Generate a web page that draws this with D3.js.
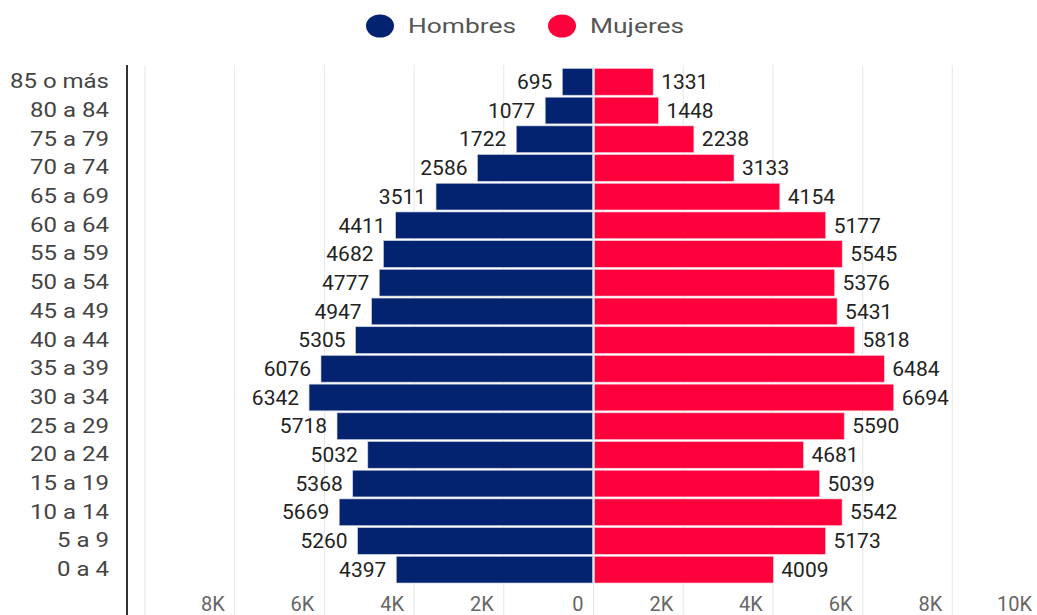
<!DOCTYPE html>
<html>
<head>
<meta charset="utf-8">
<title>Pirámide de población</title>
<script src="https://cdn.jsdelivr.net/npm/d3@7"></script>
<style>
body { margin: 0; background: #fff; }
svg { display: block; font-family: Roboto, "Noto Sans", sans-serif; }
</style>
</head>
<body>
<div id="chart"></div>
<script>
// age groups, top to bottom
var grupos = ["85 o más", "80 a 84", "75 a 79", "70 a 74", "65 a 69", "60 a 64", "55 a 59",
  "50 a 54", "45 a 49", "40 a 44", "35 a 39", "30 a 34", "25 a 29", "20 a 24",
  "15 a 19", "10 a 14", "5 a 9", "0 a 4"];
var hombres = [695, 1077, 1722, 2586, 3511, 4411, 4682, 4777, 4947, 5305, 6076, 6342, 5718, 5032, 5368, 5669, 5260, 4397];
var mujeres = [1331, 1448, 2238, 3133, 4154, 5177, 5545, 5376, 5431, 5818, 6484, 6694, 5590, 4681, 5039, 5542, 5173, 4009];
var ticks = [-10000, -8000, -6000, -4000, -2000, 0, 2000, 4000, 6000, 8000, 10000];
var tickLabels = ["10K", "8K", "6K", "4K", "2K", "0", "2K", "4K", "6K", "8K", "10K"];
var series = ["Hombres", "Mujeres"];
var colores = ["#03226f", "#ff003c"];

var W = 1037, H = 615;
var svg = d3.select("#chart").append("svg").attr("width", W).attr("height", H);

var x = d3.scaleLinear().domain([-10000, 10000]).range([145, 1042]);
var y = d3.scaleBand().domain(grupos).range([67.5, 584]).paddingInner(0.07).paddingOuter(0.035);

// the original is a bit wide in its lettering, so text gets stretched sideways
function place(sel, fx, fy, sx) {
  sel.attr("transform", (d, i) => "translate(" + fx(d, i) + "," + fy(d, i) + ") scale(" + sx + ",1)");
}

// gridlines
svg.append("g").selectAll("line").data(ticks).join("line")
  .attr("x1", d => x(d)).attr("x2", d => x(d))
  .attr("y1", 65).attr("y2", H)
  .attr("stroke", "#e6e6e6").attr("stroke-width", 1);

// tick labels (sit just left of their gridline)
svg.append("g").selectAll("text").data(ticks.slice(1)).join("text")
  .attr("x", d => x(d) - 10).attr("y", 611)
  .attr("text-anchor", "end")
  .attr("fill", "#666").attr("font-size", 20)
  .text(d => tickLabels[ticks.indexOf(d)]);

// bars
var rows = grupos.map((g, i) => ({g: g, h: hombres[i], m: mujeres[i]}));
var bars = svg.append("g");
bars.selectAll("rect.h").data(rows).join("rect").attr("class", "h")
  .attr("x", d => x(-d.h)).attr("width", d => x(0) - x(-d.h) - 1)
  .attr("y", d => y(d.g)).attr("height", y.bandwidth())
  .attr("fill", colores[0]).attr("stroke", "#c9cfe0").attr("stroke-width", 0.6);
bars.selectAll("rect.m").data(rows).join("rect").attr("class", "m")
  .attr("x", x(0) + 1).attr("width", d => x(d.m) - x(0) - 1)
  .attr("y", d => y(d.g)).attr("height", y.bandwidth())
  .attr("fill", colores[1]).attr("stroke", "#ffc9d5").attr("stroke-width", 0.6);

// value labels
var lab = svg.append("g").attr("font-size", 20).attr("fill", "#222");
lab.selectAll("text.h").data(rows).join("text").attr("class", "h")
  .attr("dy", "0.36em").attr("text-anchor", "end").text(d => d.h)
  .call(place, d => x(-d.h) - 10, d => y(d.g) + y.bandwidth() / 2, 1.05);
lab.selectAll("text.m").data(rows).join("text").attr("class", "m")
  .attr("dy", "0.36em").text(d => d.m)
  .call(place, d => x(d.m) + 8, d => y(d.g) + y.bandwidth() / 2, 1.05);

// category labels + axis line
svg.append("g").attr("font-size", 20).attr("fill", "#444")
  .selectAll("text").data(grupos).join("text")
  .attr("text-anchor", "end").attr("dy", "0.32em").text(d => d)
  .call(place, d => 109, d => y(d) + y.bandwidth() / 2, 1.2);
svg.append("line").attr("x1", 127).attr("x2", 127).attr("y1", 65).attr("y2", H)
  .attr("stroke", "#333").attr("stroke-width", 2);

// legend
var leg = svg.append("g");
var lx = [380, 562];
series.forEach(function (s, i) {
  leg.append("ellipse").attr("cx", lx[i]).attr("cy", 26).attr("rx", 14).attr("ry", 11.5).attr("fill", colores[i]);
  leg.append("text").attr("dy", "0.36em")
    .attr("font-size", 20).attr("fill", "#555").text(s)
    .call(place, () => lx[i] + 28, () => 26, 1.32);
});
</script>
</body>
</html>
